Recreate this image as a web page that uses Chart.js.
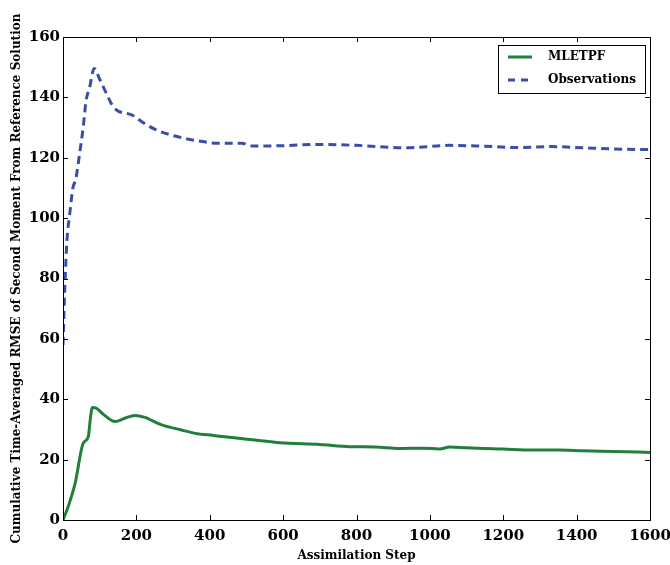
<!DOCTYPE html>
<html lang="en">
<head>
<meta charset="UTF-8">
<title>Cumulative RMSE of Second Moment</title>
<script src="https://cdn.jsdelivr.net/npm/chart.js@4.4.0/dist/chart.umd.min.js"></script>
<style>
    body { margin: 0; background: #fff; }
    #wrap { width: 670px; height: 565px; }
</style>
</head>
<body>
<div id="wrap"><canvas id="rmseChart" width="670" height="565"></canvas></div>
<script>
    // values
    const mlSteps  = [0, 14, 33, 55, 69, 74, 80, 91, 110, 142, 170, 196, 223, 269, 320, 360, 410, 460, 523, 591, 700, 782, 850, 918, 980, 1027, 1054, 1100, 1200, 1281, 1350, 1418, 1500, 1600];
    const mlValues = [0, 4.4, 12.1, 25.4, 27.6, 33, 37.3, 37, 35, 32.6, 33.8, 34.6, 34, 31.5, 29.9, 28.7, 28, 27.3, 26.5, 25.6, 25, 24.3, 24.2, 23.7, 23.8, 23.5, 24.2, 23.9, 23.5, 23.2, 23.2, 22.9, 22.7, 22.4];

    const obsSteps  = [0, 5, 11, 18, 27, 35, 46, 55, 63, 72, 85, 100, 114, 140, 187, 220, 251, 305, 368, 422, 487, 514, 600, 691, 800, 936, 1054, 1150, 1236, 1330, 1418, 1500, 1600];
    const obsValues = [58, 77, 93, 101, 110, 113, 122, 130, 139, 143, 149.6, 146, 142.4, 136.4, 134.2, 131.5, 129.4, 127.2, 125.6, 124.8, 124.8, 123.9, 124, 124.4, 124.1, 123.3, 124.1, 123.8, 123.4, 123.7, 123.3, 122.9, 122.7];

    const xTicks = [0, 200, 400, 600, 800, 1000, 1200, 1400, 1600];
    const yTicks = [0, 20, 40, 60, 80, 100, 120, 140, 160];

    const greenLine = '#217f3b';
    const blueLine = '#3a4ea8';
    const serif = "'DejaVu Serif', serif";

    // box around the plot, inward ticks on all four sides, legend in the corner
    const framePlugin = {
        id: 'frame',
        afterDraw(chart) {
            const ctx = chart.ctx;
            const a = chart.chartArea;
            const xs = chart.scales.x;
            const ys = chart.scales.y;
            ctx.save();
            ctx.strokeStyle = '#000';
            ctx.lineWidth = 1;
            ctx.strokeRect(a.left + 0.5, a.top + 0.5, a.right - a.left, a.bottom - a.top);
            ctx.beginPath();
            xTicks.forEach(v => {
                const px = Math.round(xs.getPixelForValue(v)) + 0.5;
                ctx.moveTo(px, a.bottom); ctx.lineTo(px, a.bottom - 5);
                ctx.moveTo(px, a.top); ctx.lineTo(px, a.top + 5);
            });
            yTicks.forEach(v => {
                const py = Math.round(ys.getPixelForValue(v)) + 0.5;
                ctx.moveTo(a.left, py); ctx.lineTo(a.left + 5, py);
                ctx.moveTo(a.right, py); ctx.lineTo(a.right - 5, py);
            });
            ctx.stroke();

            // legend
            const bx = 498, by = 45, bw = 147, bh = 48;
            ctx.fillStyle = '#fff';
            ctx.fillRect(bx, by, bw, bh);
            ctx.strokeRect(bx + 0.5, by + 0.5, bw, bh);
            ctx.lineWidth = 3;
            ctx.strokeStyle = greenLine;
            ctx.beginPath(); ctx.moveTo(508, 57); ctx.lineTo(532, 57); ctx.stroke();
            ctx.strokeStyle = blueLine;
            ctx.setLineDash([7, 6]);
            ctx.beginPath(); ctx.moveTo(508, 80); ctx.lineTo(534, 80); ctx.stroke();
            ctx.setLineDash([]);
            ctx.fillStyle = '#000';
            ctx.font = 'bold 12px ' + serif;
            ctx.textBaseline = 'middle';
            ctx.fillText('MLETPF', 548, 57);
            ctx.fillText('Observations', 548, 80);
            ctx.restore();
        }
    };

    new Chart(document.getElementById('rmseChart'), {
        type: 'line',
        data: {
            datasets: [{
                label: 'MLETPF',
                data: mlSteps.map((s, i) => ({ x: s, y: mlValues[i] })),
                borderColor: greenLine,
                borderWidth: 3,
                pointRadius: 0,
                cubicInterpolationMode: 'monotone'
            }, {
                label: 'Observations',
                data: obsSteps.map((s, i) => ({ x: s, y: obsValues[i] })),
                borderColor: blueLine,
                borderWidth: 3,
                borderDash: [8, 5],
                pointRadius: 0,
                cubicInterpolationMode: 'monotone'
            }]
        },
        options: {
            responsive: false,
            animation: false,
            layout: { padding: { left: 0, right: 20, top: 37, bottom: 0 } },
            plugins: { legend: { display: false }, tooltip: { enabled: false } },
            scales: {
                x: {
                    type: 'linear',
                    min: 0, max: 1600,
                    afterBuildTicks: s => { s.ticks = xTicks.map(v => ({ value: v })); },
                    afterFit: s => { s.height = 45; s.paddingLeft = 0; s.paddingRight = 0; },
                    grid: { drawOnChartArea: false, drawTicks: false },
                    border: { display: false },
                    ticks: { color: '#000', padding: 7, maxRotation: 0, callback: v => String(v), font: { family: serif, size: 15, weight: 'bold' } },
                    title: { display: true, text: 'Assimilation Step', color: '#000', padding: { top: 0, bottom: 2 }, font: { family: serif, size: 12, weight: 'bold' } }
                },
                y: {
                    min: 0, max: 160,
                    afterBuildTicks: s => { s.ticks = yTicks.map(v => ({ value: v })); },
                    afterFit: s => { s.width = 63; },
                    grid: { drawOnChartArea: false, drawTicks: false },
                    border: { display: false },
                    ticks: { color: '#000', padding: 3, callback: v => String(v), font: { family: serif, size: 15, weight: 'bold' } },
                    title: { display: true, text: 'Cumulative Time-Averaged RMSE of Second Moment From Reference Solution', color: '#000', padding: { top: 10, bottom: 0 }, font: { family: serif, size: 12, weight: 'bold' } }
                }
            }
        },
        plugins: [framePlugin]
    });
</script>
</body>
</html>
